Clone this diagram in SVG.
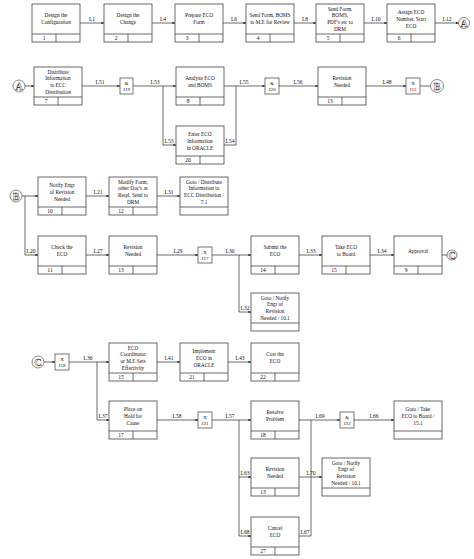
<svg xmlns="http://www.w3.org/2000/svg" width="474" height="559" viewBox="0 0 474 559">
<defs>
<marker id="ah" viewBox="0 0 6 6" refX="6" refY="3" markerWidth="3.2" markerHeight="3.2" orient="auto"><path d="M0,0 L6,3 L0,6 z" fill="#222"/></marker>
<style>
.b{fill:#fff;stroke:#444;stroke-width:0.8}
.s{stroke:#444;stroke-width:0.8;fill:none}
.t{font-family:"Liberation Serif",serif;font-size:5.3px;fill:#111;text-anchor:middle}
.n{font-family:"Liberation Serif",serif;font-size:5.5px;fill:#111;text-anchor:middle}
.l{font-family:"Liberation Serif",serif;font-size:5.6px;fill:#111;text-anchor:middle}
.c{stroke:#444;stroke-width:0.8;fill:none}
.a{marker-end:url(#ah)}
.j{fill:#fff;stroke:#555;stroke-width:0.8}
.jt{font-family:"Liberation Serif",serif;font-size:5px;fill:#111;text-anchor:middle}
.r{fill:#fff;stroke:#888;stroke-width:1}
.rt{font-family:"Liberation Serif",serif;font-size:10px;font-weight:bold;fill:#fff;stroke:#333;stroke-width:0.45;text-anchor:middle}
</style>
</defs>
<rect width="474" height="559" fill="#fff"/>

<!-- Row 1 -->
<g id="n1"><rect class="b" x="32" y="4" width="48" height="38"/><path class="s" d="M32,34H80M56,34V42"/><text class="t"><tspan x="56" y="17.45">Design the</tspan><tspan x="56" y="24.15">Configuration</tspan></text><text class="n" x="44" y="40">1</text></g>
<g id="n2"><rect class="b" x="104" y="4" width="48" height="38"/><path class="s" d="M104,34H152M128,34V42"/><text class="t"><tspan x="128" y="17.45">Design the</tspan><tspan x="128" y="24.15">Change</tspan></text><text class="n" x="116" y="40">2</text></g>
<g id="n3"><rect class="b" x="175" y="4" width="48" height="38"/><path class="s" d="M175,34H223M199,34V42"/><text class="t"><tspan x="199" y="17.45">Prepare ECO</tspan><tspan x="199" y="24.15">Form</tspan></text><text class="n" x="187" y="40">3</text></g>
<g id="n4"><rect class="b" x="246" y="4" width="48" height="38"/><path class="s" d="M246,34H294M270,34V42"/><text class="t"><tspan x="270" y="17.45">Send Form, BOMS</tspan><tspan x="270" y="24.15">to M.E for Review</tspan></text><text class="n" x="258" y="40">4</text></g>
<g id="n5"><rect class="b" x="316" y="4" width="48" height="38"/><path class="s" d="M316,34H364M340,34V42"/><text class="t"><tspan x="340" y="10.75">Send Form,</tspan><tspan x="340" y="17.45">BOMS,</tspan><tspan x="340" y="24.15">PDF's etc to</tspan><tspan x="340" y="30.85">DRM</tspan></text><text class="n" x="328" y="40">5</text></g>
<g id="n6"><rect class="b" x="387" y="4" width="48" height="38"/><path class="s" d="M387,34H435M411,34V42"/><text class="t"><tspan x="411" y="14.1">Assign ECO</tspan><tspan x="411" y="20.8">Number. Start</tspan><tspan x="411" y="27.5">ECO</tspan></text><text class="n" x="399" y="40">6</text></g>
<g id="refA1"><circle class="r" cx="464" cy="23" r="5.5"/><text class="rt" x="464" y="26.6">A</text></g>

<!-- Row 2 -->
<g id="refA2"><circle class="r" cx="19" cy="86" r="6"/><text class="rt" x="19" y="89.6">A</text></g>
<g id="n7"><rect class="b" x="34" y="67" width="48" height="38"/><path class="s" d="M34,97H82M58,97V105"/><text class="t"><tspan x="58" y="73.75">Distribute</tspan><tspan x="58" y="80.45">Information</tspan><tspan x="58" y="87.15">to ECC</tspan><tspan x="58" y="93.85">Distribution</tspan></text><text class="n" x="46" y="103">7</text></g>
<g id="j19"><rect class="j" x="120" y="78" width="13" height="16"/><text class="jt"><tspan x="126.5" y="85">&amp;</tspan><tspan x="126.5" y="91">J19</tspan></text></g>
<g id="n8"><rect class="b" x="176" y="67" width="48" height="38"/><path class="s" d="M176,97H224M200,97V105"/><text class="t"><tspan x="200" y="80.45">Analyze ECO</tspan><tspan x="200" y="87.15">and BOMS</tspan></text><text class="n" x="188" y="103">8</text></g>
<g id="n20"><rect class="b" x="176" y="126" width="48" height="38"/><path class="s" d="M176,156H224M200,156V164"/><text class="t"><tspan x="200" y="136.1">Enter ECO</tspan><tspan x="200" y="142.8">Information</tspan><tspan x="200" y="149.5">in ORACLE</tspan></text><text class="n" x="188" y="162">20</text></g>
<g id="j20"><rect class="j" x="265" y="78" width="14" height="16"/><text class="jt"><tspan x="272" y="85">&amp;</tspan><tspan x="272" y="91">J20</tspan></text></g>
<g id="n13a"><rect class="b" x="318" y="67" width="48" height="38"/><path class="s" d="M318,97H366M342,97V105"/><text class="t"><tspan x="342" y="80.45">Revision</tspan><tspan x="342" y="87.15">Needed</tspan></text><text class="n" x="330" y="103">13</text></g>
<g id="j12"><rect class="j" x="406" y="78" width="14" height="16"/><text class="jt"><tspan x="413" y="85">X</tspan><tspan x="413" y="91">J12</tspan></text></g>
<g id="refB1"><circle class="r" cx="437" cy="86" r="6.5"/><text class="rt" x="437" y="89.6">B</text></g>

<!-- Row 3 -->
<g id="refB2"><circle class="r" cx="16" cy="196" r="6"/><text class="rt" x="16" y="199.6">B</text></g>
<g id="n10"><rect class="b" x="38" y="177" width="48" height="38"/><path class="s" d="M38,207H86M62,207V215"/><text class="t"><tspan x="62" y="187.1">Notify Engr</tspan><tspan x="62" y="193.8">of Revision</tspan><tspan x="62" y="200.5">Needed</tspan></text><text class="n" x="50" y="213">10</text></g>
<g id="n12"><rect class="b" x="109" y="177" width="48" height="38"/><path class="s" d="M109,207H157M133,207V215"/><text class="t"><tspan x="133" y="183.75">Modify Form,</tspan><tspan x="133" y="190.45">other Doc's as</tspan><tspan x="133" y="197.15">Reqd. Send to</tspan><tspan x="133" y="203.85">DRM</tspan></text><text class="n" x="121" y="213">12</text></g>
<g id="g71"><rect class="b" x="180" y="177" width="48" height="38"/><path class="s" d="M180,207H228"/><text class="t"><tspan x="204" y="183.75">Goto / Distribute</tspan><tspan x="204" y="190.45">Information to</tspan><tspan x="204" y="197.15">ECC Distribution /</tspan><tspan x="204" y="203.85">7.1</tspan></text></g>

<!-- Row 4 -->
<g id="n11"><rect class="b" x="38" y="236" width="48" height="38"/><path class="s" d="M38,266H86M62,266V274"/><text class="t"><tspan x="62" y="249.45">Check the</tspan><tspan x="62" y="256.15">ECO</tspan></text><text class="n" x="50" y="272">11</text></g>
<g id="n13b"><rect class="b" x="109" y="236" width="48" height="38"/><path class="s" d="M109,266H157M133,266V274"/><text class="t"><tspan x="133" y="249.45">Revision</tspan><tspan x="133" y="256.15">Needed</tspan></text><text class="n" x="121" y="272">13</text></g>
<g id="j17"><rect class="j" x="198" y="247" width="14" height="16"/><text class="jt"><tspan x="205" y="254">X</tspan><tspan x="205" y="260">J17</tspan></text></g>
<g id="n14"><rect class="b" x="251" y="236" width="48" height="38"/><path class="s" d="M251,266H299M275,266V274"/><text class="t"><tspan x="275" y="249.45">Submit the</tspan><tspan x="275" y="256.15">ECO</tspan></text><text class="n" x="263" y="272">14</text></g>
<g id="n15a"><rect class="b" x="322" y="236" width="48" height="38"/><path class="s" d="M322,266H370M346,266V274"/><text class="t"><tspan x="346" y="249.45">Take ECO</tspan><tspan x="346" y="256.15">to Board</tspan></text><text class="n" x="334" y="272">15</text></g>
<g id="n9"><rect class="b" x="394" y="236" width="48" height="38"/><path class="s" d="M394,266H442M418,266V274"/><text class="t"><tspan x="418" y="252.8">Approval</tspan></text><text class="n" x="406" y="272">9</text></g>
<g id="refC1"><circle class="r" cx="452" cy="255" r="5"/><text class="rt" x="452" y="258.6">C</text></g>
<g id="g101a"><rect class="b" x="251" y="293" width="48" height="38"/><path class="s" d="M251,323H299"/><text class="t"><tspan x="275" y="299.75">Goto / Notify</tspan><tspan x="275" y="306.45">Engr of</tspan><tspan x="275" y="313.15">Revision</tspan><tspan x="275" y="319.85">Needed / 10.1</tspan></text></g>

<!-- Row 5 -->
<g id="refC2"><circle class="r" cx="38" cy="362" r="6"/><text class="rt" x="38" y="365.6">C</text></g>
<g id="j18"><rect class="j" x="55" y="354" width="14" height="16"/><text class="jt"><tspan x="62" y="361">X</tspan><tspan x="62" y="367">J18</tspan></text></g>
<g id="n15b"><rect class="b" x="109" y="343" width="48" height="38"/><path class="s" d="M109,373H157M133,373V381"/><text class="t"><tspan x="133" y="349.75">ECO</tspan><tspan x="133" y="356.45">Coordinator</tspan><tspan x="133" y="363.15">or M.E Sets</tspan><tspan x="133" y="369.85">Effectivity</tspan></text><text class="n" x="121" y="379">15</text></g>
<g id="n21"><rect class="b" x="180" y="343" width="48" height="38"/><path class="s" d="M180,373H228M204,373V381"/><text class="t"><tspan x="204" y="353.1">Implement</tspan><tspan x="204" y="359.8">ECO in</tspan><tspan x="204" y="366.5">ORACLE</tspan></text><text class="n" x="192" y="379">21</text></g>
<g id="n22"><rect class="b" x="251" y="343" width="48" height="38"/><path class="s" d="M251,373H299M275,373V381"/><text class="t"><tspan x="275" y="356.45">Cost the</tspan><tspan x="275" y="363.15">ECO</tspan></text><text class="n" x="263" y="379">22</text></g>

<!-- Row 6 -->
<g id="n17"><rect class="b" x="109" y="401" width="48" height="38"/><path class="s" d="M109,431H157M133,431V439"/><text class="t"><tspan x="133" y="411.1">Place on</tspan><tspan x="133" y="417.8">Hold for</tspan><tspan x="133" y="424.5">Cause</tspan></text><text class="n" x="121" y="437">17</text></g>
<g id="j21"><rect class="j" x="198" y="412" width="14" height="16"/><text class="jt"><tspan x="205" y="419">X</tspan><tspan x="205" y="425">J21</tspan></text></g>
<g id="n18"><rect class="b" x="251" y="401" width="48" height="38"/><path class="s" d="M251,431H299M275,431V439"/><text class="t"><tspan x="275" y="414.45">Resolve</tspan><tspan x="275" y="421.15">Problem</tspan></text><text class="n" x="263" y="437">18</text></g>
<g id="j23"><rect class="j" x="340" y="412" width="14" height="16"/><text class="jt"><tspan x="347" y="419">&amp;</tspan><tspan x="347" y="425">J23</tspan></text></g>
<g id="g151"><rect class="b" x="394" y="401" width="48" height="38"/><path class="s" d="M394,431H442"/><text class="t"><tspan x="418" y="411.1">Goto / Take</tspan><tspan x="418" y="417.8">ECO to Board /</tspan><tspan x="418" y="424.5">15.1</tspan></text></g>
<g id="n13c"><rect class="b" x="251" y="458" width="48" height="38"/><path class="s" d="M251,488H299M275,488V496"/><text class="t"><tspan x="275" y="471.45">Revision</tspan><tspan x="275" y="478.15">Needed</tspan></text><text class="n" x="263" y="494">13</text></g>
<g id="g101b"><rect class="b" x="322" y="458" width="48" height="38"/><path class="s" d="M322,488H370"/><text class="t"><tspan x="346" y="464.75">Goto / Notify</tspan><tspan x="346" y="471.45">Engr of</tspan><tspan x="346" y="478.15">Revision</tspan><tspan x="346" y="484.85">Needed / 10.1</tspan></text></g>
<g id="n27"><rect class="b" x="251" y="517" width="48" height="38"/><path class="s" d="M251,547H299M275,547V555"/><text class="t"><tspan x="275" y="530.45">Cancel</tspan><tspan x="275" y="537.15">ECO</tspan></text><text class="n" x="263" y="553">27</text></g>

<!-- Connectors -->
<g id="connectors">
<path class="c a" d="M80,23H104"/><path class="c a" d="M152,23H175"/><path class="c a" d="M223,23H246"/><path class="c a" d="M294,23H316"/><path class="c a" d="M364,23H387"/><path class="c a" d="M435,23H458.5"/>
<path class="c a" d="M25,86H34"/><path class="c a" d="M82,86H120"/><path class="c a" d="M133,86H176"/><path class="c a" d="M163,86V145H176"/><path class="c a" d="M224,86H265"/><path class="c" d="M224,145H236V86"/><path class="c a" d="M279,86H318"/><path class="c a" d="M366,86H406"/><path class="c" d="M420,86H430.5"/>
<path class="c a" d="M22,196H38"/><path class="c a" d="M25,196V255H38"/><path class="c a" d="M86,196H109"/><path class="c a" d="M157,196H180"/>
<path class="c a" d="M86,255H109"/><path class="c a" d="M157,255H198"/><path class="c a" d="M212,255H251"/><path class="c a" d="M239,255V312H251"/><path class="c a" d="M299,255H322"/><path class="c a" d="M370,255H394"/><path class="c" d="M442,255H447"/>
<path class="c a" d="M44,362H55"/><path class="c a" d="M69,362H109"/><path class="c a" d="M97,362V420H109"/><path class="c a" d="M157,362H180"/><path class="c a" d="M228,362H251"/>
<path class="c a" d="M157,420H198"/><path class="c a" d="M212,420H251"/><path class="c a" d="M239,420V477H251"/><path class="c a" d="M239,477V536H251"/><path class="c a" d="M299,420H340"/><path class="c a" d="M354,420H394"/><path class="c" d="M299,536H311V420"/><path class="c a" d="M299,477H322"/>
<text class="l" x="92" y="21">L1</text><text class="l" x="163" y="21">L4</text><text class="l" x="234" y="21">L6</text><text class="l" x="305" y="21">L8</text><text class="l" x="376" y="21">L10</text><text class="l" x="447" y="21">L12</text>
<text class="l" x="100" y="84">L51</text><text class="l" x="155" y="84">L53</text><text class="l" x="169" y="143">L53</text><text class="l" x="230" y="143">L54</text><text class="l" x="244" y="84">L55</text><text class="l" x="298" y="84">L56</text><text class="l" x="387" y="84">L48</text>
<text class="l" x="98" y="194">L21</text><text class="l" x="169" y="194">L31</text><text class="l" x="31" y="253">L20</text>
<text class="l" x="98" y="253">L27</text><text class="l" x="178" y="253">L29</text><text class="l" x="230" y="253">L30</text><text class="l" x="245" y="310">L32</text><text class="l" x="311" y="253">L33</text><text class="l" x="382" y="253">L34</text>
<text class="l" x="88" y="360">L36</text><text class="l" x="103" y="418">L37</text><text class="l" x="169" y="360">L41</text><text class="l" x="240" y="360">L43</text>
<text class="l" x="177" y="418">L58</text><text class="l" x="230" y="418">L57</text><text class="l" x="320" y="418">L69</text><text class="l" x="374" y="418">L66</text><text class="l" x="245" y="475">L63</text><text class="l" x="311" y="475">L70</text><text class="l" x="245" y="534">L68</text><text class="l" x="305" y="534">L67</text>
</g>
</svg>
